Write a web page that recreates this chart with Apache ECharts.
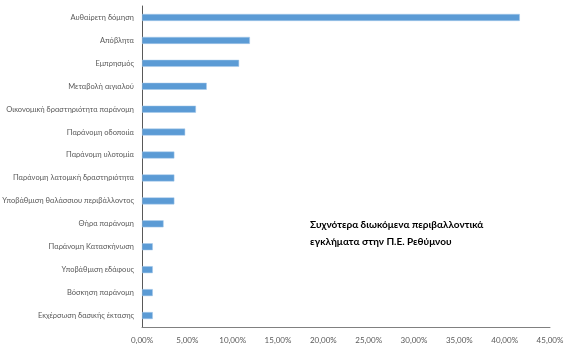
<!DOCTYPE html>
<html><head><meta charset="utf-8">
<script src="https://cdn.jsdelivr.net/npm/echarts@6/dist/echarts.min.js"></script>
<style>html,body{margin:0;padding:0;background:#fff}#c{width:584px;height:362px}</style>
</head><body><div id="c"></div>
<script>
const categories = ["Αυθαίρετη δόμηση","Απόβλητα","Εμπρησμός","Μεταβολή αιγιαλού","Οικονομική δραστηριότητα παράνομη","Παράνομη οδοποιία","Παράνομη υλοτομία","Παράνομη λατομική δραστηριότητα","Υποβάθμιση θαλάσσιου περιβάλλοντος","Θήρα παράνομη","Παράνομη Κατασκήνωση","Υποβάθμιση εδάφους","Βόσκηση παράνομη","Εκχέρσωση δασικής έκτασης"];
const values = [41.67,11.90,10.71,7.14,5.95,4.76,3.57,3.57,3.57,2.38,1.19,1.19,1.19,1.19];
const titleLines = ["Συχνότερα διωκόμενα περιβαλλοντικά","εγκλήματα στην Π.Ε. Ρεθύμνου"];
const FONT = "Lato, sans-serif";
const chart = echarts.init(document.getElementById('c'));
chart.setOption({
  animation:false,
  grid:{left:142,right:34,top:6,bottom:35,containLabel:false,outerBoundsMode:'none'},
  title:{text:titleLines.join('\n'),left:305,top:212,textStyle:{fontFamily:FONT,fontWeight:'bold',fontSize:10,color:'#000',lineHeight:16.5}},
  xAxis:{type:'value',min:0,max:45,interval:5,splitLine:{show:false},
    axisLine:{show:true,lineStyle:{color:'#808080',width:1}},axisTick:{show:false},
    axisLabel:{formatter:v=>v.toFixed(2).replace('.',',')+'%',color:'#595959',fontSize:8,fontFamily:FONT,margin:9}},
  yAxis:{type:'category',data:categories,inverse:true,
    axisLine:{show:true,lineStyle:{color:'#595959',width:1}},axisTick:{show:false},
    axisLabel:{color:'#595959',fontSize:7.5,fontFamily:FONT,margin:8}},
  series:[{type:'bar',data:values,barWidth:7,itemStyle:{color:'#5b9bd5',borderColor:'#a9cbeb',borderWidth:0.5}}]
});
</script></body></html>
